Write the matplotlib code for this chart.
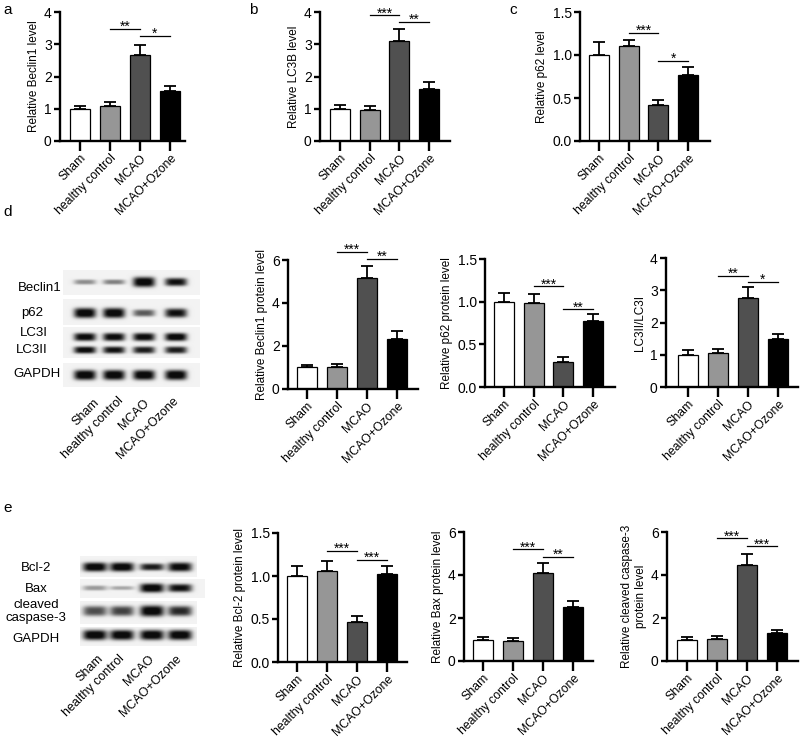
import numpy as np
import matplotlib
matplotlib.use("Agg")
import matplotlib.pyplot as plt

plt.rcParams['font.family'] = ['Liberation Sans', 'DejaVu Sans']

groups = ["Sham", "healthy control", "MCAO", "MCAO+Ozone"]
bar_colors = ["#ffffff", "#969696", "#505050", "#000000"]

# mean / upper error for each panel
beclin1_mean = [1.0, 1.07, 2.67, 1.54]
beclin1_err = [0.10, 0.15, 0.32, 0.18]
lc3b_mean = [1.0, 0.97, 3.10, 1.62]
lc3b_err = [0.12, 0.12, 0.37, 0.20]
p62_mean = [1.0, 1.10, 0.42, 0.77]
p62_err = [0.15, 0.08, 0.06, 0.09]
beclin1_prot_mean = [1.0, 1.03, 5.18, 2.33]
beclin1_prot_err = [0.10, 0.12, 0.55, 0.37]
p62_prot_mean = [1.0, 0.98, 0.29, 0.77]
p62_prot_err = [0.10, 0.11, 0.06, 0.09]
lc3_ratio_mean = [1.0, 1.05, 2.77, 1.49]
lc3_ratio_err = [0.14, 0.14, 0.33, 0.16]
bcl2_mean = [1.0, 1.06, 0.47, 1.02]
bcl2_err = [0.12, 0.11, 0.06, 0.10]
bax_mean = [1.0, 0.95, 4.08, 2.49]
bax_err = [0.12, 0.12, 0.50, 0.32]
casp3_mean = [1.0, 1.04, 4.48, 1.28]
casp3_err = [0.10, 0.11, 0.52, 0.18]

# significance brackets: (from, to, height, label)
sig_a = [(1, 2, 3.47, "**"), (2, 3, 3.26, "*")]
sig_b = [(1, 2, 3.90, "***"), (2, 3, 3.70, "**")]
sig_c = [(1, 2, 1.26, "***"), (2, 3, 0.93, "*")]
sig_d1 = [(1, 2, 6.39, "***"), (2, 3, 6.05, "**")]
sig_d2 = [(1, 2, 1.18, "***"), (2, 3, 0.91, "**")]
sig_d3 = [(1, 2, 3.44, "**"), (2, 3, 3.25, "*")]
sig_e1 = [(1, 2, 1.29, "***"), (2, 3, 1.19, "***")]
sig_e2 = [(1, 2, 5.20, "***"), (2, 3, 4.85, "**")]
sig_e3 = [(1, 2, 5.70, "***"), (2, 3, 5.33, "***")]

# western blot band intensities per lane
blot_d = {
    "Beclin1": [0.40, 0.45, 1.0, 0.90],
    "p62": [1.0, 1.0, 0.60, 0.90],
    "LC3I": [0.95, 0.95, 0.95, 1.0],
    "LC3II": [0.95, 0.90, 0.85, 0.85],
    "GAPDH": [1.0, 1.0, 1.0, 1.0],
}
blot_e = {
    "Bcl-2": [1.0, 1.0, 0.85, 0.95],
    "Bax": [0.35, 0.30, 1.0, 0.90],
    "caspase": [0.65, 0.70, 1.0, 0.80],
    "GAPDH": [1.0, 1.0, 1.0, 1.0],
}

W, H = 800, 741
fig = plt.figure(figsize=(W / 100, H / 100), dpi=100)

# overlay axes in pixel coordinates for blots and free text
ov = fig.add_axes([0, 0, 1, 1])
ov.set_xlim(0, W)
ov.set_ylim(H, 0)
ov.axis("off")


def bar_panel(left, top, bottom, first, sp, right, mean, err, ymax, yticks,
              ylabel, sigs, fmt="{:g}"):
    ax = fig.add_axes([left / W, 1 - bottom / H, (right - left) / W, (bottom - top) / H])
    x = np.arange(4)
    ax.bar(x, mean, width=0.68, color=bar_colors, edgecolor="black", linewidth=0.9, zorder=2)
    ax.errorbar(x, mean, yerr=[np.zeros(4), err], fmt="none", ecolor="black",
                elinewidth=1.3, capsize=4, capthick=1.3, zorder=1)
    ax.set_xlim((left - first) / sp, (right - first) / sp)
    ax.set_ylim(0, ymax)
    ax.set_yticks(yticks)
    ax.set_yticklabels([fmt.format(t) for t in yticks], fontsize=10)
    ax.set_xticks(x)
    ax.set_xticklabels(groups, rotation=45, ha="right", rotation_mode="anchor", fontsize=8.8)
    ax.tick_params(axis="x", length=7, width=1.7, pad=1)
    ax.tick_params(axis="y", length=4, width=1.7, pad=2)
    for s in ["top", "right"]:
        ax.spines[s].set_visible(False)
    for s in ["left", "bottom"]:
        ax.spines[s].set_linewidth(1.7)
    ax.set_ylabel(ylabel, fontsize=8.5, labelpad=3)
    for i, j, y, lab in sigs:
        ax.plot([i, j], [y, y], color="black", lw=0.9, clip_on=False)
        ax.annotate(lab, (0.5 * (i + j), y), xytext=(0, -1.5), textcoords="offset points",
                    ha="center", va="baseline", fontsize=10, annotation_clip=False)
    return ax


bar_panel(60, 12, 141, 80, 30, 185, beclin1_mean, beclin1_err, 4, [0, 1, 2, 3, 4],
          "Relative Beclin1 level", sig_a)
bar_panel(320, 12, 141, 340, 29.7, 450, lc3b_mean, lc3b_err, 4, [0, 1, 2, 3, 4],
          "Relative LC3B level", sig_b)
bar_panel(580, 12, 141, 599, 29.7, 710, p62_mean, p62_err, 1.5, [0, 0.5, 1.0, 1.5],
          "Relative p62 level", sig_c, fmt="{:.1f}")
bar_panel(288, 260, 389, 307, 30, 418, beclin1_prot_mean, beclin1_prot_err, 6, [0, 2, 4, 6],
          "Relative Beclin1 protein level", sig_d1)
bar_panel(485, 259, 387, 504, 29.7, 615, p62_prot_mean, p62_prot_err, 1.5, [0, 0.5, 1.0, 1.5],
          "Relative p62 protein level", sig_d2, fmt="{:.1f}")
bar_panel(666, 258, 387, 688, 30, 798, lc3_ratio_mean, lc3_ratio_err, 4, [0, 1, 2, 3, 4],
          "LC3II/LC3I", sig_d3)
bar_panel(278, 533, 662, 297, 30, 407, bcl2_mean, bcl2_err, 1.5, [0, 0.5, 1.0, 1.5],
          "Relative Bcl-2 protein level", sig_e1, fmt="{:.1f}")
bar_panel(464, 532, 661, 483, 30, 593, bax_mean, bax_err, 6, [0, 2, 4, 6],
          "Relative Bax protein level", sig_e2)
bar_panel(667, 532, 661, 687, 30, 798, casp3_mean, casp3_err, 6, [0, 2, 4, 6],
          "Relative cleaved caspase-3\nprotein level", sig_e3)


def strip(x0, x1, y0, y1, lanes, bands, hw=11):
    w, h = int(x1 - x0) * 2, int(y1 - y0) * 2
    yy, xx = np.mgrid[0:h, 0:w] / 2.0 + 0.25
    img = np.full((h, w), 0.95)
    for yc, ints, hh in bands:
        for lx, inten, hb in zip(lanes, ints, hh):
            g = np.exp(-np.abs((xx - (lx - x0)) / hw) ** 4 - np.abs((yy - (yc - y0)) / hb) ** 3)
            img -= inten * 1.0 * g
    img = np.clip(img, 0.05, 1)
    ov.imshow(img, cmap="gray", vmin=0, vmax=1, extent=(x0, x1, y1, y0),
              aspect="auto", interpolation="bilinear")


lanes_d = [85, 114, 144, 176]
strip(63, 200, 270, 295, lanes_d, [(282, blot_d["Beclin1"], [2.5, 2.5, 5, 4])])
strip(63, 200, 299, 325, lanes_d, [(313, blot_d["p62"], [5, 5, 3.5, 4.5])])
strip(63, 200, 327, 358, lanes_d, [(337, blot_d["LC3I"], [4] * 4),
                                   (350, blot_d["LC3II"], [3.5] * 4)])
strip(63, 200, 363, 387, lanes_d, [(375, blot_d["GAPDH"], [5] * 4)])

lanes_e = [95, 122, 152, 180]
strip(80, 197, 556, 577, lanes_e, [(567, blot_e["Bcl-2"], [4.5, 4.5, 3.5, 4.5])], hw=12)
strip(80, 205, 579, 598, lanes_e, [(588, blot_e["Bax"], [2.5, 2, 4.5, 4])], hw=12)
strip(80, 197, 601, 624, lanes_e, [(611, blot_e["caspase"], [5, 5, 5.5, 5])], hw=12)
strip(80, 197, 627, 646, lanes_e, [(635, blot_e["GAPDH"], [5] * 4)], hw=12)
ov.set_xlim(0, W)
ov.set_ylim(H, 0)

# blot row labels
for lab, xc, yc in [("Beclin1", 40, 288), ("p62", 32, 313), ("LC3I", 34, 333),
                    ("LC3II", 32, 350), ("GAPDH", 37, 374)]:
    ov.text(xc, yc, lab, ha="center", va="center", fontsize=9.5)
for lab, xc, yc in [("Bcl-2", 36, 568), ("Bax", 36, 589), ("cleaved", 36, 605),
                    ("caspase-3", 36, 618), ("GAPDH", 36, 639)]:
    ov.text(xc, yc, lab, ha="center", va="center", fontsize=9.5)

# blot lane labels
for lab, xr, yt in zip(groups, [93, 117, 143, 172], [397, 395, 397, 395]):
    ov.text(xr, yt, lab, rotation=45, ha="right", va="top", rotation_mode="anchor", fontsize=9)
for lab, xr, yt in zip(groups, [97, 118, 148, 175], [653, 653, 653, 653]):
    ov.text(xr, yt, lab, rotation=45, ha="right", va="top", rotation_mode="anchor", fontsize=9)

# panel letters
for lab, xp, yp in [("a", 8, 10), ("b", 253, 10), ("c", 513, 10), ("d", 8, 212), ("e", 8, 508)]:
    ov.text(xp, yp, lab, ha="center", va="center", fontsize=11)

fig.savefig("out.png", dpi=100)
